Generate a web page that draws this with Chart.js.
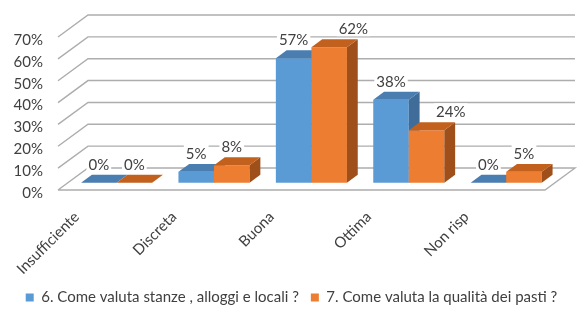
<!DOCTYPE html>
<html>
<head>
<meta charset="utf-8">
<script src="https://cdn.jsdelivr.net/npm/chart.js@4.4.1/dist/chart.umd.min.js"></script>
<style>
  html, body { margin: 0; padding: 0; background: #fff; }
  #wrap { width: 583px; height: 320px; }
</style>
</head>
<body>
<div id="wrap"><canvas id="chart"></canvas></div>
<script>
const categories = ['Insufficiente', 'Discreta', 'Buona', 'Ottima', 'Non risp'];
const seriesNames = ['6. Come valuta stanze , alloggi e locali ?', '7. Come valuta la qualità dei pasti ?'];
const stanze = [0, 5, 57, 38, 0];
const pasti = [0, 8, 62, 24, 5];
const yTicks = [0, 10, 20, 30, 40, 50, 60, 70];

const FONT = 'Lato, "Open Sans", sans-serif';
const TEXT = '#404040';

const palette = [
  { front: '#5b9bd5', top: '#4a7db0', side: '#3f6c98' },
  { front: '#ed7d31', top: '#c2611e', side: '#9f4f19' }
];

// floor depth in pixels, and where the boxes sit inside that depth
const DEPTH_X = 30, DEPTH_Y = -22;
const BAR_NEAR = 0.33, BAR_FAR = 0.69;

function poly(ctx, pts, color) {
  ctx.beginPath();
  ctx.moveTo(pts[0][0], pts[0][1]);
  for (let i = 1; i < pts.length; i++) ctx.lineTo(pts[i][0], pts[i][1]);
  ctx.closePath();
  ctx.fillStyle = color;
  ctx.fill();
}

function overlaps(a, b, m) {
  return a.x0 < b.x1 + m && a.x1 > b.x0 - m && a.y0 < b.y1 + m && a.y1 > b.y0 - m;
}

const box3d = {
  id: 'box3d',
  beforeDatasetsDraw(chart) {
    const { ctx, chartArea: a, scales: { y } } = chart;
    ctx.save();
    ctx.strokeStyle = '#adadad';
    ctx.lineWidth = 1.4;
    y.ticks.forEach(t => {
      const py = y.getPixelForValue(t.value);
      ctx.beginPath();
      ctx.moveTo(a.left, py);
      ctx.lineTo(a.left + DEPTH_X, py + DEPTH_Y);
      ctx.lineTo(a.right + DEPTH_X, py + DEPTH_Y);
      if (t.value === 0) {
        ctx.lineTo(a.right, py);
        ctx.lineTo(a.left, py);
      }
      ctx.stroke();
    });
    ctx.restore();
  },
  beforeDatasetDraw() {
    return false;
  },
  afterDatasetsDraw(chart) {
    const { ctx } = chart;
    const nx = DEPTH_X * BAR_NEAR, ny = DEPTH_Y * BAR_NEAR;
    const dx = DEPTH_X * (BAR_FAR - BAR_NEAR), dy = DEPTH_Y * (BAR_FAR - BAR_NEAR);
    const boxes = [];

    ctx.save();
    categories.forEach((cat, i) => {
      boxes[i] = [];
      chart.data.datasets.forEach((ds, d) => {
        const el = chart.getDatasetMeta(d).data[i];
        const { x, y, base, width } = el.getProps(['x', 'y', 'base', 'width'], true);
        const c = palette[d];
        const x0 = x - width / 2 + nx, x1 = x + width / 2 + nx;
        const top = y + ny, bot = base + ny;
        if (bot - top > 0.5) {
          poly(ctx, [[x0, top], [x1, top], [x1, bot], [x0, bot]], c.front);
          poly(ctx, [[x1, top], [x1 + dx, top + dy], [x1 + dx, bot + dy], [x1, bot]], c.side);
        }
        poly(ctx, [[x0, top], [x1, top], [x1 + dx, top + dy], [x0 + dx, top + dy]], c.top);
        boxes[i][d] = { x0, x1: x1 + dx, y0: top + dy, y1: bot, cx: (x0 + x1) / 2, top, width };
      });
    });

    // value labels with a white backing
    ctx.font = '15px ' + FONT;
    ctx.textAlign = 'center';
    ctx.textBaseline = 'middle';
    categories.forEach((cat, i) => {
      const placed = [];
      chart.data.datasets.forEach((ds, d) => {
        const b = boxes[i][d];
        const txt = ds.data[i] + '%';
        const w = ctx.measureText(txt).width + 4;
        let cx = b.cx;
        const cy = b.top - 19;
        let lb = { x0: cx - w / 2, x1: cx + w / 2, y0: cy - 8, y1: cy + 8 };
        if (d > 0) {
          const prev = boxes[i][d - 1];
          const hit = placed.some(p => overlaps(lb, p, 5)) || overlaps(lb, prev, 0);
          if (hit) {
            cx += b.width * 0.68;
            lb = { x0: cx - w / 2, x1: cx + w / 2, y0: cy - 8, y1: cy + 8 };
          }
        }
        placed.push(lb);
        ctx.fillStyle = '#fff';
        ctx.fillRect(lb.x0, lb.y0, w, 16);
        ctx.fillStyle = TEXT;
        ctx.fillText(txt, cx, cy + 1);
      });
    });
    ctx.restore();
  }
};

new Chart(document.getElementById('chart'), {
  type: 'bar',
  data: {
    labels: categories,
    datasets: [
      { label: seriesNames[0], data: stanze, backgroundColor: palette[0].front, borderWidth: 0 },
      { label: seriesNames[1], data: pasti, backgroundColor: palette[1].front, borderWidth: 0 }
    ]
  },
  options: {
    responsive: true,
    maintainAspectRatio: false,
    animation: false,
    categoryPercentage: 0.73,
    barPercentage: 1,
    layout: { padding: { top: 37, right: 0, left: 0, bottom: 5 } },
    plugins: {
      legend: {
        position: 'bottom',
        labels: {
          boxWidth: 8,
          boxHeight: 8,
          padding: 12,
          color: TEXT,
          font: { family: FONT, size: 15 }
        }
      },
      tooltip: { enabled: false }
    },
    scales: {
      x: {
        afterFit: (scale) => { scale.height = 88; },
        grid: { display: false, drawTicks: false },
        border: { display: false },
        ticks: {
          minRotation: 45,
          maxRotation: 45,
          padding: 18,
          labelOffset: -30,
          color: TEXT,
          font: { family: FONT, size: 15 }
        }
      },
      y: {
        min: 0,
        max: 70,
        afterBuildTicks: (scale) => { scale.ticks = yTicks.map(v => ({ value: v })); },
        afterFit: (scale) => { scale.width = 58; },
        grid: { display: false, drawTicks: false },
        border: { display: false },
        ticks: {
          padding: 15,
          labelOffset: 3,
          color: TEXT,
          font: { family: FONT, size: 15 },
          callback: (v) => v + '%'
        }
      },
      // empty right-hand axis: leaves room for the receding floor and back wall
      depth: {
        position: 'right',
        afterFit: (scale) => { scale.width = 38; },
        grid: { display: false, drawTicks: false },
        border: { display: false },
        ticks: { display: false }
      }
    }
  },
  plugins: [box3d]
});
</script>
</body>
</html>
